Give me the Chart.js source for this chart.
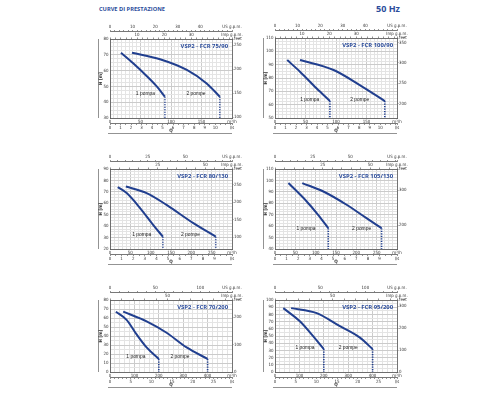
<!DOCTYPE html>
<html>
<head>
<meta charset="utf-8">
<script src="https://cdn.jsdelivr.net/npm/chart.js@4.4.0/dist/chart.umd.min.js"></script>
<style>
  html, body { margin: 0; padding: 0; background: #fff; }
  body { width: 500px; height: 400px; position: relative; overflow: hidden; }
  .head { position: absolute; color: #2c4d9c; font-family: "Open Sans", sans-serif; font-weight: bold; white-space: nowrap; line-height: 1; }
  #title { left: 99px; top: 7px; font-size: 5.7px; }
  #hz { left: 376px; top: 4px; font-size: 9px; }
  canvas { position: absolute; }
</style>
</head>
<body>
<div class="head" id="title">CURVE DI PRESTAZIONE</div>
<div class="head" id="hz">50 Hz</div>
<canvas id="c1"></canvas>
<canvas id="c2"></canvas>
<canvas id="c3"></canvas>
<canvas id="c4"></canvas>
<canvas id="c5"></canvas>
<canvas id="c6"></canvas>
<script>
const BLUE = '#213f8f';
const FT = 3.2808;           // m -> feet
const TICK_FONT = '"Liberation Sans Narrow", "DejaVu Sans Condensed", "Liberation Sans", sans-serif';

// ---- curves: Q in m³/h, H in m ----
// VSP2 - FCR 75/90
const q75_1 = [18, 38, 60, 77, 90];
const h75_1 = [71.3, 64.6, 56.6, 49.8, 43.5];
const q75_2 = [36, 82, 126, 158, 180];
const h75_2 = [71.3, 67.2, 60.4, 52, 43.5];
// VSP2 - FCR 100/90
const q100_1 = [20, 41, 68, 90];
const h100_1 = [93.5, 84.7, 72.3, 62.7];
const q100_2 = [41, 96, 139, 180];
const h100_2 = [93.5, 86, 74.7, 62.7];
// VSP2 - FCR 80/130
const q80_1 = [19, 41, 74, 106, 130];
const h80_1 = [74.2, 68.9, 55.8, 41.1, 30.8];
const q80_2 = [39, 90, 139, 205, 260];
const h80_2 = [74.7, 68.9, 58.6, 42.6, 30.8];
// VSP2 - FCR 105/130
const q105_1 = [33, 78, 106, 131];
const h105_1 = [97.7, 81.6, 69.9, 58.2];
const q105_2 = [67, 119, 176, 225, 262];
const h105_2 = [97.7, 90.3, 78.7, 67, 58.2];
// VSP2 - FCR 70/200
const q70_1 = [24, 68, 109, 150, 200];
const h70_1 = [67, 58, 41.8, 27.3, 14.5];
const q70_2 = [54, 150, 232, 314, 400];
const h70_2 = [67, 56.3, 43.6, 27.3, 14.5];
// VSP2 - FCR 95/200
const q95_1 = [34, 102, 150, 200];
const h95_1 = [88.7, 70.4, 52.2, 31.8];
const q95_2 = [66, 171, 266, 348, 400];
const h95_2 = [88.7, 81.8, 63.6, 47.7, 31.8];

// ---- tick labels ----
const qLab200 = [0, 50, 100, 150];
const qLab300 = [0, 50, 100, 150, 200, 250];
const qLab500 = [0, 100, 200, 300, 400];
const hLab75 = [30, 40, 50, 60, 70, 80];
const hLab100 = [50, 60, 70, 80, 90, 100, 110];
const hLab80 = [20, 30, 40, 50, 60, 70, 80, 90];
const hLab105 = [40, 50, 60, 70, 80, 90, 100, 110];
const hLab70 = [0, 10, 20, 30, 40, 50, 60, 70, 80];
const hLab95 = [0, 10, 20, 30, 40, 50, 60, 70, 80, 90, 100];
const ftLab75 = [100, 150, 200, 250];
const ftLab100 = [200, 250, 300, 350];
const ftLab80 = [100, 150, 200, 250];
const ftLab105 = [200, 300];
const ftLab70 = [0, 100, 200];
const ftLab95 = [0, 100, 200, 300];
const usLabS = [0, 10, 20, 30, 40];
const usLabM = [0, 25, 50];
const usLabL = [0, 50, 100];
const impLabS = [10, 20, 30];
const impLabM = [25, 50];
const impLabL = [50];
const lsLabS = [0, 1, 2, 3, 4, 5, 6, 7, 8, 9, 10];
const lsLabM = [0, 1, 2, 3, 4, 5, 6, 7, 8, 9];
const lsLabL = [0, 5, 10, 15, 20, 25];

// ---- one entry per panel ----
const panels = [
  { id: 'c1', plot: [110, 39, 122, 79], title: 'VSP2 - FCR 75/90',
    q1: q75_1, h1: h75_1, q2: q75_2, h2: h75_2,
    qMax: 200, qMinor: 6.25, qLab: qLab200, hMin: 30, hMax: 80, hMinor: 2.5, hLab: hLab75, ftLab: ftLab75,
    usMax: 54, usMinor: 2, usLab: usLabS, impMax: 45, impMinor: 2, impLab: impLabS, lsMax: 11.6, lsMinor: 0.5, lsLab: lsLabS,
    notes: [[58, 45.2], [141, 45.2]] },
  { id: 'c2', plot: [275, 38, 122, 80], title: 'VSP2 - FCR 100/90',
    q1: q100_1, h1: h100_1, q2: q100_2, h2: h100_2,
    qMax: 200, qMinor: 6.25, qLab: qLab200, hMin: 50, hMax: 110, hMinor: 2.5, hLab: hLab100, ftLab: ftLab100,
    usMax: 54, usMinor: 2, usLab: usLabS, impMax: 45, impMinor: 2, impLab: impLabS, lsMax: 11.6, lsMinor: 0.5, lsLab: lsLabS,
    notes: [[57, 64], [139, 64]] },
  { id: 'c3', plot: [110, 169, 122, 80], title: 'VSP2 - FCR 80/130',
    q1: q80_1, h1: h80_1, q2: q80_2, h2: h80_2,
    qMax: 300, qMinor: 10, qLab: qLab300, hMin: 20, hMax: 90, hMinor: 2.5, hLab: hLab80, ftLab: ftLab80,
    usMax: 81, usMinor: 5, usLab: usLabM, impMax: 64, impMinor: 5, impLab: impLabM, lsMax: 10.5, lsMinor: 0.5, lsLab: lsLabM,
    notes: [[78, 32.3], [198, 32.3]] },
  { id: 'c4', plot: [275, 169, 122, 80], title: 'VSP2 - FCR 105/130',
    q1: q105_1, h1: h105_1, q2: q105_2, h2: h105_2,
    qMax: 300, qMinor: 10, qLab: qLab300, hMin: 40, hMax: 110, hMinor: 2.5, hLab: hLab105, ftLab: ftLab105,
    usMax: 81, usMinor: 5, usLab: usLabM, impMax: 64, impMinor: 5, impLab: impLabM, lsMax: 10.5, lsMinor: 0.5, lsLab: lsLabM,
    notes: [[76, 58.2], [213, 58.2]] },
  { id: 'c5', plot: [110, 300, 122, 72], title: 'VSP2 - FCR 70/200',
    q1: q70_1, h1: h70_1, q2: q70_2, h2: h70_2,
    qMax: 500, qMinor: 20, qLab: qLab500, hMin: 0, hMax: 80, hMinor: 5, hLab: hLab70, ftLab: ftLab70,
    usMax: 135, usMinor: 10, usLab: usLabL, impMax: 106, impMinor: 10, impLab: impLabL, lsMax: 29.5, lsMinor: 1, lsLab: lsLabL,
    notes: [[106, 17], [287, 17]] },
  { id: 'c6', plot: [275, 300, 122, 72], title: 'VSP2 - FCR 95/200',
    q1: q95_1, h1: h95_1, q2: q95_2, h2: h95_2,
    qMax: 500, qMinor: 20, qLab: qLab500, hMin: 0, hMax: 100, hMinor: 5, hLab: hLab95, ftLab: ftLab95,
    usMax: 135, usMinor: 10, usLab: usLabL, impMax: 106, impMinor: 10, impLab: impLabL, lsMax: 29.5, lsMinor: 1, lsLab: lsLabL,
    notes: [[123, 34], [300, 34]] }
];

const PADL = 16, PADR = 16, PADT = 16, PADB = 19;

function steps(min, max, step) {
  const out = [];
  const n = Math.floor((max - min) / step + 1e-6);
  for (let i = 0; i <= n; i++) out.push(+(min + i * step).toFixed(4));
  return out;
}

function tickAxis(position, weight, min, max, minor, labels, unit, size) {
  const vals = minor ? steps(min, max, minor) : labels.slice();
  if (unit && Math.abs(vals[vals.length - 1] - max) > 1e-6) vals.push(max);
  const horiz = position === 'top' || position === 'bottom';
  return {
    type: 'linear', position, weight, min, max, bounds: 'data',
    axis: horiz ? 'x' : 'y',
    afterBuildTicks: s => { s.ticks = vals.map(v => ({ value: v })); },
    afterFit: s => {
      if (horiz) { s.height = size; s.paddingLeft = 0; s.paddingRight = 0; }
      else { s.width = size; s.paddingTop = 0; s.paddingBottom = 0; }
    },
    ticks: {
      autoSkip: false, maxRotation: 0, minRotation: 0, padding: 0.5,
      color: '#333', font: { size: 4.4, family: TICK_FONT },
      callback: v => labels.includes(v) ? String(v) : (unit && Math.abs(v - max) < 1e-6 ? unit : '')
    },
    grid: { drawOnChartArea: false, drawTicks: true, tickLength: 1.5, color: '#666', lineWidth: 0.7 },
    border: { display: true, color: '#555', width: 0.8 }
  };
}

const deco = {
  id: 'deco',
  afterDraw(chart) {
    const o = chart.options.plugins.deco;
    const { ctx, chartArea: a, scales: s } = chart;
    ctx.save();
    ctx.strokeStyle = '#777';
    ctx.lineWidth = 0.8;
    ctx.beginPath();
    ctx.moveTo(a.left - 11.5, a.top);
    ctx.lineTo(a.left - 11.5, a.bottom);
    ctx.moveTo(a.left - 2, a.bottom + 15.5);
    ctx.lineTo(a.right, a.bottom + 15.5);
    ctx.stroke();
    ctx.fillStyle = '#333';
    ctx.font = 'bold 4.6px ' + TICK_FONT;
    ctx.textAlign = 'center';
    ctx.textBaseline = 'middle';
    ctx.fillText('Q', (a.left + a.right) / 2, a.bottom + 12.8);
    ctx.save();
    ctx.translate(a.left - 9.3, (a.top + a.bottom) / 2);
    ctx.rotate(-Math.PI / 2);
    ctx.fillText('H [m]', 0, 0);
    ctx.restore();
    // panel title
    ctx.fillStyle = '#2c4d9c';
    ctx.font = 'bold 5.9px "Open Sans", sans-serif';
    ctx.textAlign = 'right';
    ctx.fillText(o.title, a.right - 4, a.top + 7.5);
    // curve notes
    ctx.fillStyle = '#222';
    ctx.font = '4.9px "Liberation Sans", sans-serif';
    ctx.textAlign = 'center';
    ['1 pompa', '2 pompe'].forEach((t, i) => {
      const n = o.notes[i];
      ctx.fillText(t, s.x.getPixelForValue(n[0]), s.y.getPixelForValue(n[1]));
    });
    ctx.restore();
  }
};

function curve(q, h) { return q.map((v, i) => ({ x: v, y: h[i] })); }
function drop(q, h, hMin) {
  const i = q.length - 1;
  return [{ x: q[i], y: h[i] }, { x: q[i], y: hMin }];
}

panels.forEach(p => {
  const cv = document.getElementById(p.id);
  const [px, py, pw, ph] = p.plot;
  cv.width = pw + PADL + PADR;
  cv.height = ph + PADT + PADB;
  cv.style.left = (px - PADL) + 'px';
  cv.style.top = (py - PADT) + 'px';

  const line = { borderColor: BLUE, borderWidth: 2, pointRadius: 0, cubicInterpolationMode: 'monotone', fill: false };
  const dots = { borderColor: BLUE, borderWidth: 1.6, pointRadius: 0, borderDash: [1.2, 1.3], fill: false };

  const x = tickAxis('bottom', 0, 0, p.qMax, p.qMinor, p.qLab, 'm³/h', 5.5);
  x.ticks.padding = 1;
  x.grid = {
    drawOnChartArea: true, drawTicks: false, lineWidth: 1,
    color: c => p.qLab.includes(c.tick.value) ? '#cbcbcb' : '#e4e4e4'
  };
  const y = tickAxis('left', 0, p.hMin, p.hMax, p.hMinor, p.hLab, null, PADL);
  y.ticks.padding = 1.5;
  y.grid = {
    drawOnChartArea: true, drawTicks: false, lineWidth: 1,
    color: c => p.hLab.includes(c.tick.value) ? '#cbcbcb' : '#e4e4e4'
  };

  new Chart(cv, {
    type: 'line',
    data: {
      datasets: [
        Object.assign({ data: curve(p.q1, p.h1) }, line),
        Object.assign({ data: curve(p.q2, p.h2) }, line),
        Object.assign({ data: drop(p.q1, p.h1, p.hMin) }, dots),
        Object.assign({ data: drop(p.q2, p.h2, p.hMin) }, dots)
      ]
    },
    options: {
      responsive: false, animation: false, devicePixelRatio: 1, events: [],
      layout: { padding: 0 },
      plugins: {
        legend: { display: false }, tooltip: { enabled: false },
        deco: { title: p.title, notes: p.notes }
      },
      scales: {
        x,
        xls: tickAxis('bottom', 1, 0, p.lsMax, p.lsMinor, p.lsLab, 'l/s', PADB - 5.5),
        xt2: tickAxis('top', 0, 0, p.impMax, p.impMinor, p.impLab, 'Imp g.p.m.', 7.5),
        xt1: tickAxis('top', 1, 0, p.usMax, p.usMinor, p.usLab, 'US g.p.m.', PADT - 7.5),
        y,
        yft: tickAxis('right', 0, p.hMin * FT, p.hMax * FT, null, p.ftLab, 'feet', PADR)
      }
    },
    plugins: [deco]
  });
});
</script>
</body>
</html>
